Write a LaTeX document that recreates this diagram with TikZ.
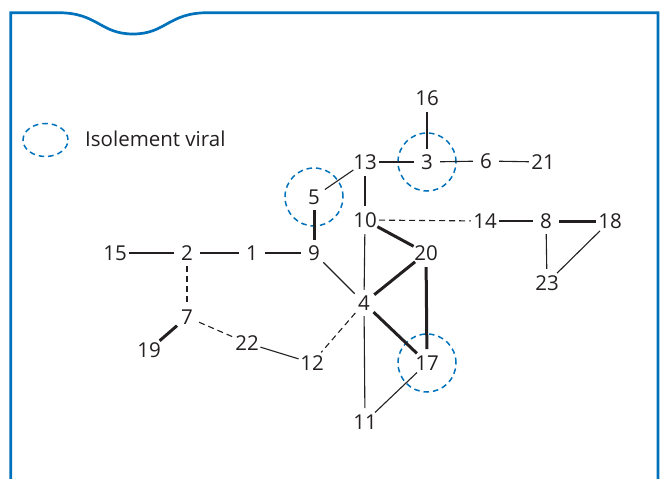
\documentclass[tikz,border=0pt]{standalone}
\usepackage{fontspec}
\setmainfont{Open Sans}
\usepackage{tikz}

\definecolor{frameblue}{RGB}{0,114,188}
\definecolor{ink}{RGB}{35,31,32}

\begin{document}
\begin{tikzpicture}[x=1pt, y=-1pt,
        main/.style = {circle, inner sep=0pt, minimum size=26pt, text=ink, font=\fontsize{20.5}{24}\selectfont},
        link/.style = {draw=ink, line width=1.1pt},
        heavy/.style = {draw=ink, line width=3pt},
        weak/.style = {draw=ink, line width=1.1pt, dash pattern=on 6pt off 4pt},
        viral/.style = {draw=frameblue, line width=1.5pt, dash pattern=on 5.5pt off 4pt}]
            \useasboundingbox (0,0) rectangle (665,479);

            % Frame
            \draw[frameblue, line width=2.7pt] (10.7,479) -- (10.7,12.7) -- (58,12.7)
                .. controls (98,12.7) and (100,34) .. (133,34)
                .. controls (166,34) and (168,12.7) .. (208,12.7) -- (658,12.7) -- (658,479);

            % Legend
            \draw[viral] (45.5,140) ellipse [x radius=22.5pt, y radius=16.5pt];
            \node[anchor=west, inner sep=0pt, text=ink, font=\fontsize{20.5}{24}\selectfont] (key) at (85,139) {Isolement viral};

            % Nodes
            \node[main] (16) at (427,98) {16};
            \node[main] (13) at (365,162) {13};
            \node[main] (3) at (427,162) {3};
            \node[main] (6) at (486,161) {6};
            \node[main] (21) at (543,162) {21};
            \node[main] (5) at (314,197) {5};
            \node[main] (10) at (365,220) {10};
            \node[main] (14) at (485,221) {14};
            \node[main] (8) at (546,221) {8};
            \node[main] (18) at (610,221) {18};
            \node[main] (15) at (115,253) {15};
            \node[main] (2) at (187,253) {2};
            \node[main] (1) at (252,253) {1};
            \node[main] (9) at (314,253) {9};
            \node[main] (20) at (426,253) {20};
            \node[main] (23) at (547,283) {23};
            \node[main] (4) at (364,303) {4};
            \node[main] (7) at (187,317) {7};
            \node[main] (22) at (247,343) {22};
            \node[main] (19) at (149,350) {19};
            \node[main] (12) at (312,363) {12};
            \node[main] (17) at (427,363) {17};
            \node[main] (11) at (365,422) {11};

            % Viral isolates
            \draw[viral] (3) circle [radius=29pt];
            \draw[viral] (5) circle [radius=29pt];
            \draw[viral] (17) circle [radius=29pt];

            % Lines
            \draw[link] (16) -- (3);
            \draw[link] (13) -- (3);
            \draw[link] (3) -- (6);
            \draw[link] (6) -- (21);
            \draw[link] (13) -- (5);
            \draw[link] (13) -- (10);
            \draw[heavy] (5) -- (9);
            \draw[weak] (10) -- (14);
            \draw[link] (14) -- (8);
            \draw[heavy] (8) -- (18);
            \draw[link] (8) -- (23);
            \draw[link] (18) -- (23);
            \draw[heavy] (10) -- (20);
            \draw[link] (10) -- (4);
            \draw[link] (4) -- (11);
            \draw[link] (9) -- (4);
            \draw[heavy] (4) -- (20);
            \draw[heavy] (4) -- (17);
            \draw[heavy] (20) -- (17);
            \draw[weak] (4) -- (12);
            \draw[link] (17) -- (11);
            \draw[link] (15) -- (2);
            \draw[link] (2) -- (1);
            \draw[link] (1) -- (9);
            \draw[weak] (2) -- (7);
            \draw[heavy] (7) -- (19);
            \draw[weak] (7) -- (22);
            \draw[link] (22) -- (12);

        \end{tikzpicture}
\end{document}
